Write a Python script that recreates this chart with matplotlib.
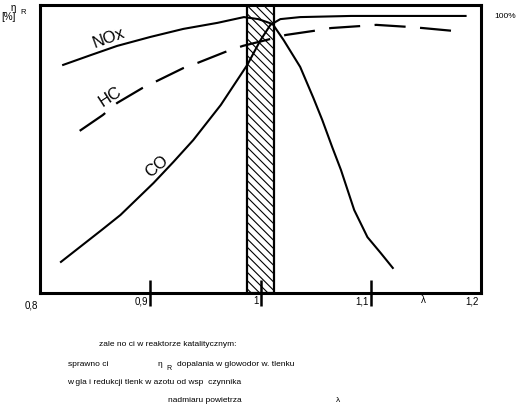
import matplotlib
matplotlib.use("Agg")
import matplotlib.pyplot as plt
from matplotlib.transforms import blended_transform_factory

# lambda (excess air ratio) vs conversion efficiency [%]
nox_lambda = [0.821, 0.846, 0.870, 0.900, 0.930, 0.961, 0.985, 0.998, 1.011, 1.021,
              1.036, 1.048, 1.056, 1.065, 1.073, 1.085, 1.097, 1.109, 1.120]
nox_eff = [79.2, 82.6, 85.8, 88.9, 91.7, 93.8, 95.8, 95.1, 93.4, 87.8,
           78.5, 67.7, 60.1, 50.7, 42.7, 28.8, 19.4, 13.9, 8.7]

co_lambda = [0.819, 0.856, 0.873, 0.903, 0.921, 0.939, 0.964, 0.988, 1.000, 1.009,
             1.018, 1.036, 1.082, 1.186]
co_eff = [10.8, 21.9, 27.1, 38.2, 45.5, 53.1, 65.3, 79.2, 87.8, 93.1,
          95.1, 95.8, 96.2, 96.2]

hc_lambda = [0.836, 0.857, 0.870, 0.893, 0.906, 0.930, 0.943, 0.968, 0.984, 1.009,
             1.023, 1.048, 1.064, 1.091, 1.105, 1.134, 1.147, 1.175]
hc_eff = [56.3, 61.8, 66.0, 71.2, 73.6, 78.1, 79.9, 83.7, 85.8, 88.2,
          89.6, 91.0, 92.0, 92.7, 93.1, 92.4, 92.0, 91.0]

window = (0.988, 1.012)

tick_vals = [0.8, 0.9, 1.0, 1.1, 1.2]
tick_labels = ["0,8", "0,9", "1", "1,1", "1,2"]

narrow = ["Liberation Sans", "DejaVu Sans"]
W, H = 516, 416

plt.rcParams["hatch.linewidth"] = 0.8
fig = plt.figure(figsize=(W / 100, H / 100), dpi=100)
ax = fig.add_axes([40 / W, 1 - 293 / H, 441 / W, 288 / H])
ax.set_xlim(0.8, 1.2)
ax.set_ylim(0, 100)

for s in ax.spines.values():
    s.set_linewidth(2.2)

ax.axvspan(window[0], window[1], facecolor="white", edgecolor="black",
           hatch="\\\\\\\\", linewidth=1.6, zorder=1)

ax.plot(nox_lambda, nox_eff, color="black", lw=1.5, zorder=3)
ax.plot(co_lambda, co_eff, color="black", lw=1.5, zorder=3)
ax.plot(hc_lambda, hc_eff, color="black", lw=1.6, linestyle=(0, (14, 6.5)), zorder=3)

ax.text(0.862, 88.5, "NOx", rotation=20, fontsize=12, family="Liberation Sans",
        ha="center", va="center")
ax.text(0.864, 68.0, "HC", rotation=33, fontsize=12, family="Liberation Sans",
        ha="center", va="center")
ax.text(0.906, 43.8, "CO", rotation=40, fontsize=12, family="Liberation Sans",
        ha="center", va="center")

ax.set_yticks([])
ax.set_xticks(tick_vals[1:4])
ax.set_xticklabels([])
ax.tick_params(axis="x", direction="inout", length=19, width=1.8)

trans = blended_transform_factory(ax.transData, fig.transFigure)
for v, lab in zip(tick_vals, tick_labels):
    yy = 305 if v == 0.8 else 301
    ax.text(v - 0.002, 1 - yy / H, lab, transform=trans, ha="right", va="center",
            fontsize=7, family=narrow)
ax.text(1.148, 1 - 300 / H, "λ", transform=trans, ha="center", va="center",
        fontsize=7, family=narrow)

# axis captions outside the frame
fig.text(13 / W, 1 - 8 / H, "η", fontsize=7, family=narrow, ha="center", va="center")
fig.text(23 / W, 1 - 13 / H, "R", fontsize=5.5, family=narrow, ha="center", va="center")
fig.text(1 / W, 1 - 17 / H, "[%]", fontsize=7, family=narrow, ha="left", va="center")
fig.text(494 / W, 1 - 16 / H, "100%", fontsize=6, family=narrow, ha="left", va="center")

# caption
cap = [
    (99, 345, "zale no ci w reaktorze katalitycznym:"),
    (68, 364, "sprawno ci"),
    (158, 364, "η"),
    (177, 364, "dopalania w glowodor w. tlenku"),
    (67, 382, "w gla i redukcji tlenk w azotu od wsp  czynnika"),
    (168, 400, "nadmiaru powietrza"),
    (336, 401, "λ"),
]
for x, y, s in cap:
    fig.text(x / W, 1 - y / H, s, fontsize=6, family=narrow, ha="left", va="center")
fig.text(166 / W, 1 - 368 / H, "R", fontsize=5, family=narrow, ha="left", va="center")

fig.savefig("out.png", dpi=100)
